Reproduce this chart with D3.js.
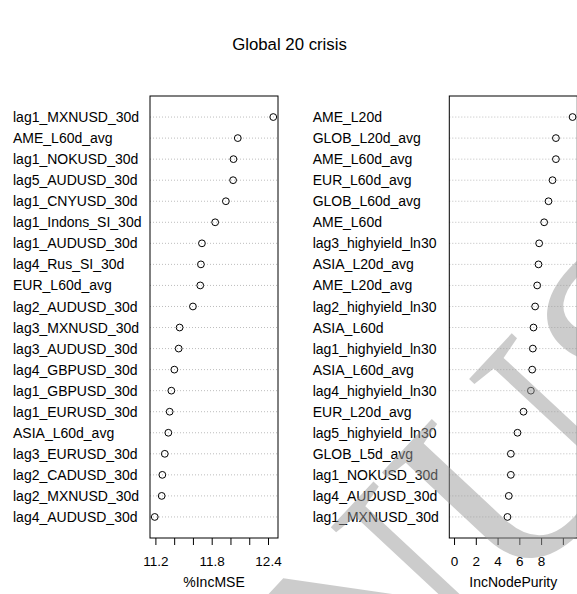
<!DOCTYPE html>
<html>
<head>
<meta charset="utf-8">
<script src="https://cdn.jsdelivr.net/npm/d3@7"></script>
<style>
  html, body { margin: 0; padding: 0; background: #fff; }
  svg { display: block; font-family: "Liberation Sans", Arial, sans-serif; }
</style>
</head>
<body>
<svg id="chart" width="577" height="594"></svg>
<script>
// Variable importance, ordered top to bottom
const mseVars = ["lag1_MXNUSD_30d","AME_L60d_avg","lag1_NOKUSD_30d","lag5_AUDUSD_30d","lag1_CNYUSD_30d",
  "lag1_Indons_SI_30d","lag1_AUDUSD_30d","lag4_Rus_SI_30d","EUR_L60d_avg","lag2_AUDUSD_30d",
  "lag3_MXNUSD_30d","lag3_AUDUSD_30d","lag4_GBPUSD_30d","lag1_GBPUSD_30d","lag1_EURUSD_30d",
  "ASIA_L60d_avg","lag3_EURUSD_30d","lag2_CADUSD_30d","lag2_MXNUSD_30d","lag4_AUDUSD_30d"];
const mseValues = [12.456,12.078,12.032,12.028,11.951,11.837,11.696,11.685,11.678,11.600,
  11.458,11.448,11.402,11.370,11.352,11.338,11.300,11.274,11.267,11.193];
const mseTicks = [11.2,11.4,11.6,11.8,12.0,12.2,12.4];
const mseTickLabels = [11.2,11.8,12.4];

const purityVars = ["AME_L20d","GLOB_L20d_avg","AME_L60d_avg","EUR_L60d_avg","GLOB_L60d_avg",
  "AME_L60d","lag3_highyield_ln30","ASIA_L20d_avg","AME_L20d_avg","lag2_highyield_ln30",
  "ASIA_L60d","lag1_highyield_ln30","ASIA_L60d_avg","lag4_highyield_ln30","EUR_L20d_avg",
  "lag5_highyield_ln30","GLOB_L5d_avg","lag1_NOKUSD_30d","lag4_AUDUSD_30d","lag1_MXNUSD_30d"];
const purityValues = [10.89,9.36,9.36,9.05,8.68,8.28,7.82,7.76,7.64,7.45,
  7.30,7.24,7.18,7.06,6.38,5.83,5.22,5.22,5.03,4.91];
const purityTicks = [0,2,4,6,8,10];
const purityTickLabels = [0,2,4,6,8];

const svg = d3.select("#chart");
const plotTop = 96, plotBottom = 538;
const fontSize = 14;

svg.append("text")
  .attr("x", 289.5).attr("y", 50)
  .attr("text-anchor", "middle")
  .attr("font-size", 16.8)
  .attr("fill", "#000")
  .text("Global 20 crisis");

function panel(opts) {
  const { vars, values, ticks, tickLabels, xmin, left, width, labelX, title } = opts;
  const n = vars.length;
  const xmax = d3.max(values);
  const lo = xmin === undefined ? d3.min(values) : xmin;
  const pad = (xmax - lo) * 0.04;
  const x = d3.scaleLinear().domain([lo - pad, xmax + pad]).range([left, left + width]);
  const y = d3.scaleLinear().domain([0, n + 1]).range([plotBottom, plotTop]);
  const g = svg.append("g");

  // dotted guide lines
  g.selectAll("line.guide").data(vars).join("line")
    .attr("class", "guide")
    .attr("x1", left).attr("x2", left + width)
    .attr("y1", (d, i) => y(n - i)).attr("y2", (d, i) => y(n - i))
    .attr("stroke", "#bdbdbd").attr("stroke-width", 1)
    .attr("stroke-dasharray", "1,2");

  // variable names
  g.selectAll("text.lab").data(vars).join("text")
    .attr("class", "lab")
    .attr("x", labelX).attr("y", (d, i) => y(n - i))
    .attr("dy", "0.36em")
    .attr("font-size", fontSize)
    .attr("fill", "#000")
    .text(d => d);

  // points
  g.selectAll("circle").data(values).join("circle")
    .attr("cx", d => x(d)).attr("cy", (d, i) => y(n - i))
    .attr("r", 3.4)
    .attr("fill", "none").attr("stroke", "#000").attr("stroke-width", 1);

  // frame
  g.append("rect")
    .attr("x", left).attr("y", plotTop)
    .attr("width", width).attr("height", plotBottom - plotTop)
    .attr("fill", "none").attr("stroke", "#000").attr("stroke-width", 1);

  // x axis
  const axis = d3.axisBottom(x)
    .tickValues(ticks)
    .tickSize(7)
    .tickPadding(11)
    .tickFormat(d => tickLabels.some(t => Math.abs(t - d) < 1e-9) ? String(d) : "");
  const ax = g.append("g").attr("transform", `translate(0,${plotBottom})`).call(axis);
  ax.select(".domain").remove();
  ax.selectAll("line").attr("stroke", "#000");
  ax.selectAll("text").attr("font-size", 13.5).attr("fill", "#000")
    .attr("font-family", "Liberation Sans, Arial, sans-serif");

  g.append("text")
    .attr("x", left + width / 2).attr("y", 587)
    .attr("text-anchor", "middle")
    .attr("font-size", fontSize)
    .attr("fill", "#000")
    .text(title);
}

panel({ vars: mseVars, values: mseValues, ticks: mseTicks, tickLabels: mseTickLabels,
  left: 150, width: 128, labelX: 13, title: "%IncMSE" });
panel({ vars: purityVars, values: purityValues, ticks: purityTicks, tickLabels: purityTickLabels,
  xmin: 0, left: 449.3, width: 128, labelX: 312.7, title: "IncNodePurity" });

// overlay mark
svg.append("text")
  .attr("transform", "translate(565,545) rotate(-47)")
  .attr("text-anchor", "middle")
  .attr("font-family", "Liberation Serif, Times New Roman, serif")
  .attr("font-size", 280)
  .attr("fill", "#9a9a9a")
  .attr("opacity", 0.5)
  .text("NUS");
</script>
</body>
</html>
